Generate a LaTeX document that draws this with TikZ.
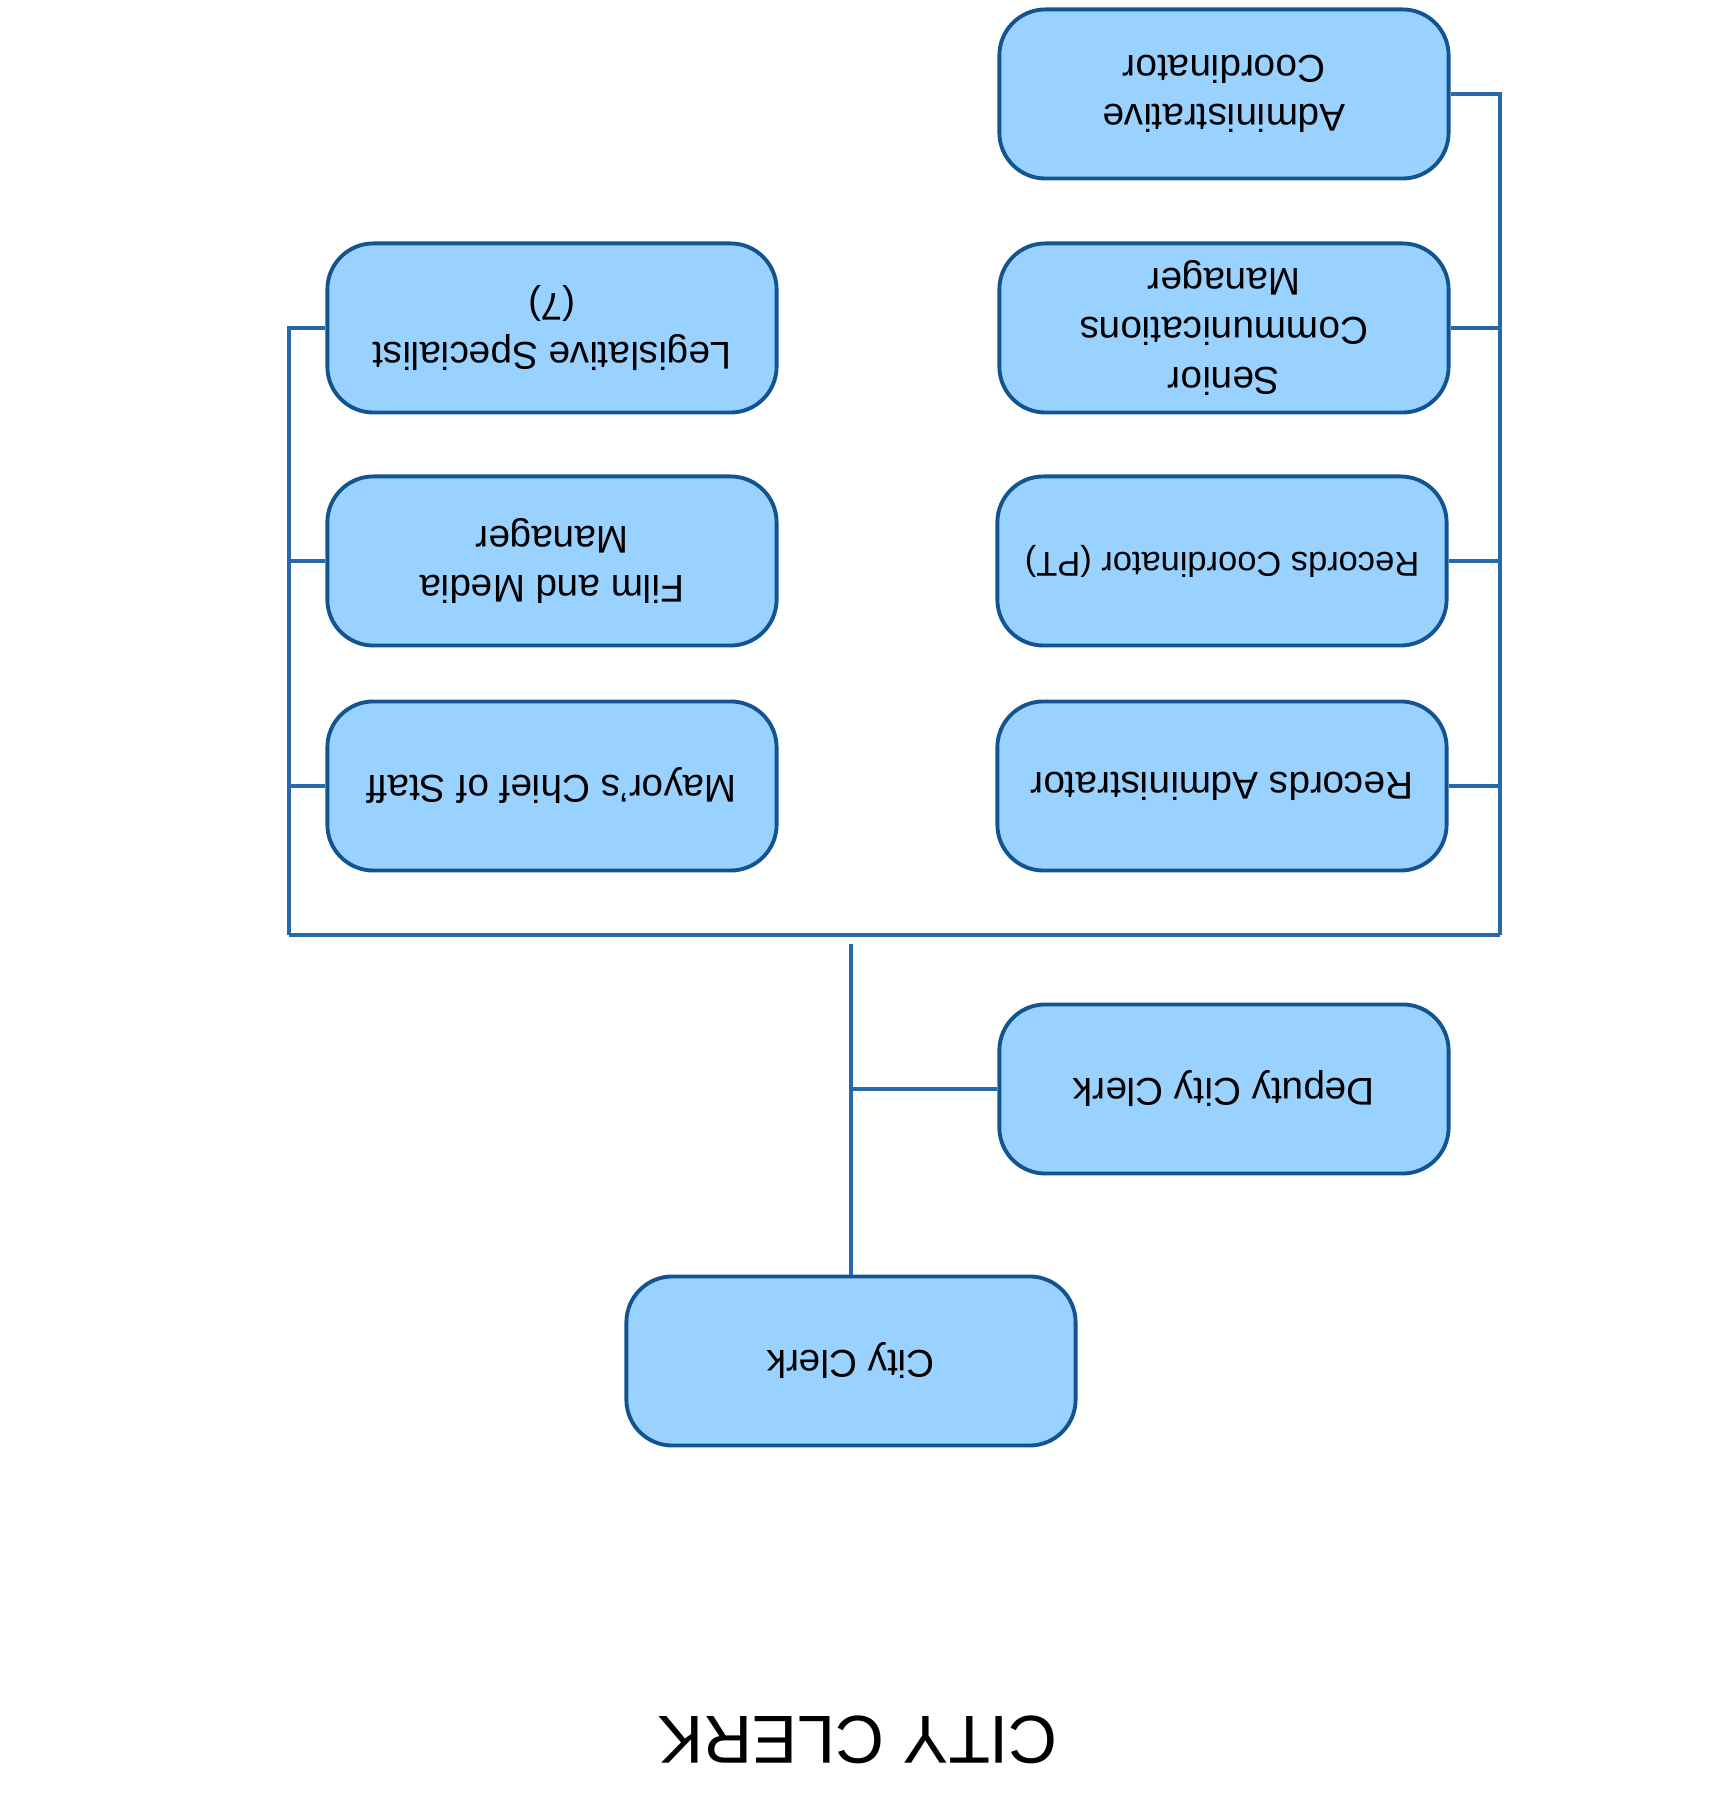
\documentclass[tikz,border=0pt]{standalone}
\usepackage{fontspec}
\setmainfont{Liberation Sans}
\usetikzlibrary{calc}
\definecolor{BoxFill}{RGB}{153,209,255}
\definecolor{BoxEdge}{RGB}{18,84,145}
\definecolor{LinkBlue}{RGB}{40,105,170}

\begin{document}
\begin{tikzpicture}[x=0.01cm, y=-0.01cm, rotate=180, transform shape,
  post/.style={draw=BoxEdge, line width=1.1pt, fill=BoxFill, rounded corners=0.46cm,
    minimum width=4.49cm, minimum height=1.69cm, align=center, inner sep=2pt,
    font=\fontsize{11}{14}\selectfont},
  link/.style={draw=LinkBlue, line width=0.9pt}]
\useasboundingbox (0,0) rectangle (1712,1815);

% Title
\node[font=\fontsize{19.3}{23}\selectfont] (title) at (854,75) {CITY CLERK};

% Top of the chart
\node[post] (clerk) at (861,454) {City Clerk};
\node[post] (deputy) at (488,726) {Deputy City Clerk};

% Left column
\node[post] (recadmin) at (490,1029) {Records Administrator};
\node[post, font=\fontsize{9.8}{12}\selectfont] (reccoord) at (490,1254) {Records Coordinator (PT)};
\node[post] (senior) at (488,1487) {Senior\\Communications\\Manager};
\node[post] (admin) at (488,1721) {Administrative\\Coordinator};

% Right column
\node[post] (mayor) at (1160,1029) {Mayor’s Chief of Staff};
\node[post] (film) at (1160,1254) {Film and Media\\Manager};
\node[post] (legis) at (1160,1487) {Legislative Specialist\\(7)};

% Trunk and bus
\coordinate (trunkend) at (861,871);
\coordinate (busL) at (212,880);
\coordinate (busR) at (1423,880);
\draw[link] (clerk.south) -- (trunkend);
\draw[link] (deputy.east) -- (deputy.east -| clerk.south);
\draw[link] (busL) -- (busR);
\draw[link] (busL) |- (admin.west);
\draw[link] (busR) |- (legis.east);

% Branches
\foreach \n in {recadmin,reccoord,senior}
  \draw[link] (\n.west) -- (\n.west -| busL);
\foreach \n in {mayor,film}
  \draw[link] (\n.east) -- (\n.east -| busR);
\end{tikzpicture}
\end{document}
